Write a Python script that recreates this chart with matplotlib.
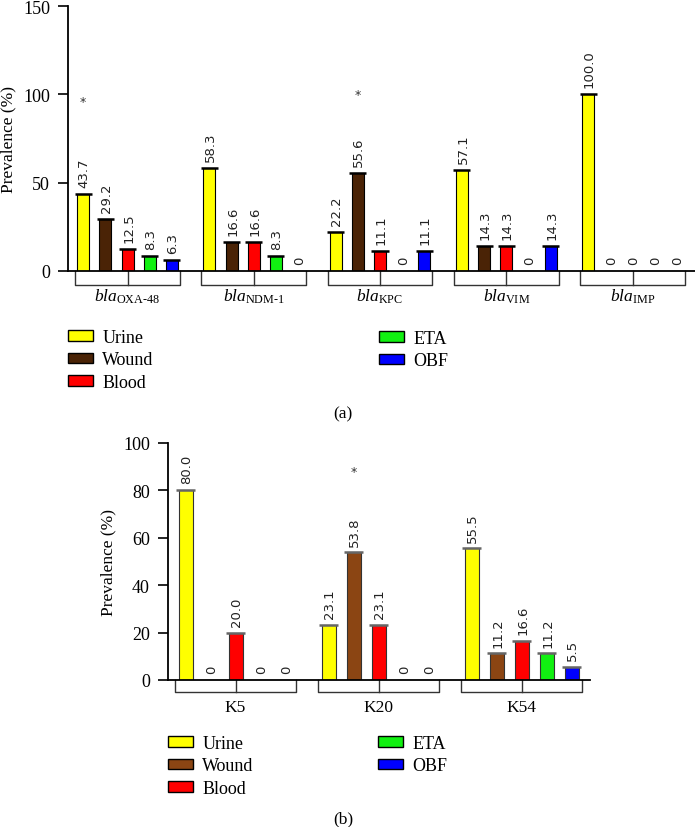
import matplotlib
matplotlib.use("Agg")
import matplotlib.pyplot as plt
from matplotlib.patches import Patch
import numpy as np

# ---------------- data ----------------
series = ["Urine", "Wound", "Blood", "ETA", "OBF"]

genes = [r"$\mathit{bla}_{\mathrm{OXA‐48}}$", r"$\mathit{bla}_{\mathrm{NDM‐1}}$",
         r"$\mathit{bla}_{\mathrm{KPC}}$", r"$\mathit{bla}_{\mathrm{VIM}}$",
         r"$\mathit{bla}_{\mathrm{IMP}}$"]
urine_a = [43.7, 58.3, 22.2, 57.1, 100.0]
wound_a = [29.2, 16.6, 55.6, 14.3, 0]
blood_a = [12.5, 16.6, 11.1, 14.3, 0]
eta_a = [8.3, 8.3, 0, 0, 0]
obf_a = [6.3, 0, 11.1, 14.3, 0]
labels_a = [["43.7", "29.2", "12.5", "8.3", "6.3"],
            ["58.3", "16.6", "16.6", "8.3", "0"],
            ["22.2", "55.6", "11.1", "0", "11.1"],
            ["57.1", "14.3", "14.3", "0", "14.3"],
            ["100.0", "0", "0", "0", "0"]]
stars_a = [(0, 0, 96), (2, 1, 100)]  # (group, series, y)

ktypes = ["K5", "K20", "K54"]
urine_b = [80.0, 23.1, 55.5]
wound_b = [0, 53.8, 11.2]
blood_b = [20.0, 23.1, 16.6]
eta_b = [0, 0, 11.2]
obf_b = [0, 0, 5.5]
labels_b = [["80.0", "0", "20.0", "0", "0"],
            ["23.1", "53.8", "23.1", "0", "0"],
            ["55.5", "11.2", "16.6", "11.2", "5.5"]]
stars_b = [(1, 1, 88)]

colors_a = ["#FFFF00", "#4A2306", "#FF0000", "#11F011", "#0000FF"]
colors_b = ["#FFFF00", "#8B4513", "#FF0000", "#11F011", "#0000FF"]

SERIF = "Liberation Serif"
plt.rcParams["mathtext.fontset"] = "custom"
plt.rcParams["mathtext.rm"] = SERIF
plt.rcParams["mathtext.it"] = SERIF + ":italic"
plt.rcParams["mathtext.bf"] = SERIF + ":bold"

W, H = 695, 828
fig = plt.figure(figsize=(W / 100, H / 100), dpi=100)


def make_axes(l, r, t, b):
    return fig.add_axes([l / W, 1 - b / H, (r - l) / W, (b - t) / H])


def draw_panel(ax, cats, data, labels, colors, ymax, yticks, spacing, width,
               half, depth_px, xlim, stars, capcolor, edgecolor, lab_off):
    ax.set_xlim(*xlim)
    ax.set_ylim(0, ymax)
    n = len(data)
    x = np.arange(len(cats))
    for j in range(n):
        pos = x + (j - 2) * spacing
        ax.bar(pos, data[j], width=width, color=colors[j], edgecolor=edgecolor,
               linewidth=0.8, zorder=2)
        nz = np.array(data[j]) > 0
        ax.hlines(np.array(data[j])[nz], pos[nz] - width / 2 - 0.02,
                  pos[nz] + width / 2 + 0.02, colors=capcolor, linewidth=1.8, zorder=3)
        for i in range(len(cats)):
            ax.annotate(labels[i][j], xy=(pos[i], data[j][i]), xytext=(0.8, 5),
                        textcoords="offset points", rotation=90, ha="center",
                        va="bottom", fontsize=9.5, family="DejaVu Sans", color="#222222")
    for (g, s, yv) in stars:
        ax.text(g + (s - 2) * spacing, yv, "*", ha="center", va="center",
                fontsize=9, family="DejaVu Sans", color="#333333")
    # brackets below axis
    ppu = ax.bbox.height / ymax  # pixels per unit
    depth = depth_px / ppu
    for i in range(len(cats)):
        xs = [x[i] - half, x[i] - half, x[i] + half, x[i] + half]
        ys = [0, -depth, -depth, 0]
        ax.plot(xs, ys, color="#333333", lw=1.0, clip_on=False, zorder=1)
        ax.plot([x[i], x[i]], [0, -depth], color="#333333", lw=1.0, clip_on=False)
        ax.annotate(cats[i], xy=(x[i], 0), xytext=(0, -lab_off * 0.72),
                    textcoords="offset points", ha="center", va="center",
                    fontsize=12.5, family=SERIF)
    ax.set_xticks([])
    ax.set_yticks(yticks)
    ax.tick_params(axis="y", direction="out", length=7, width=1.2, labelsize=13,
                   pad=6)
    for lab in ax.get_yticklabels():
        lab.set_family(SERIF)
    ax.spines["top"].set_visible(False)
    ax.spines["right"].set_visible(False)
    ax.spines["left"].set_linewidth(1.3)
    ax.spines["bottom"].set_linewidth(1.3)
    ax.set_ylabel("Prevalence (%)", family=SERIF, fontsize=12.5, labelpad=5)


def draw_legend(colors, col1_xy, col2_xy):
    handles = [Patch(facecolor=c, edgecolor="black", linewidth=1.0) for c in colors]
    kw = dict(frameon=False, loc="upper left", borderpad=0, borderaxespad=0,
              handlelength=1.4, handleheight=0.55, handletextpad=0.5,
              labelspacing=0.3, prop={"family": SERIF, "size": 13})
    fig.legend(handles[:3], series[:3], bbox_to_anchor=(col1_xy[0] / W, 1 - col1_xy[1] / H), **kw)
    fig.legend(handles[3:], series[3:], bbox_to_anchor=(col2_xy[0] / W, 1 - col2_xy[1] / H), **kw)


ax1 = make_axes(68, 695, 7, 272)
pa = 126.25
draw_panel(ax1, genes, [urine_a, wound_a, blood_a, eta_a, obf_a], labels_a, colors_a,
           150, [0, 50, 100, 150], 22.2 / pa, 12 / pa, 52.5 / pa, 14,
           ((68 - 127.5) / pa, (695 - 127.5) / pa), stars_a, "black", "black", 25)
draw_legend(colors_a, (68, 330), (379, 331))
fig.text(343 / W, 1 - 414 / H, "(a)", ha="center", va="center", family=SERIF, fontsize=12.5)

ax2 = make_axes(168, 590, 444, 681)
pb = 143.0
draw_panel(ax2, ktypes, [urine_b, wound_b, blood_b, eta_b, obf_b], labels_b, colors_b,
           100, [0, 20, 40, 60, 80, 100], 25 / pb, 14 / pb, 60.5 / pb, 12,
           ((168 - 235.5) / pb, (590 - 235.5) / pb), stars_b, "#666666", "#333333", 27)
draw_legend(colors_b, (168, 736), (378, 736))
fig.text(343 / W, 1 - 819 / H, "(b)", ha="center", va="center", family=SERIF, fontsize=12.5)

fig.savefig("out.png", dpi=100)
